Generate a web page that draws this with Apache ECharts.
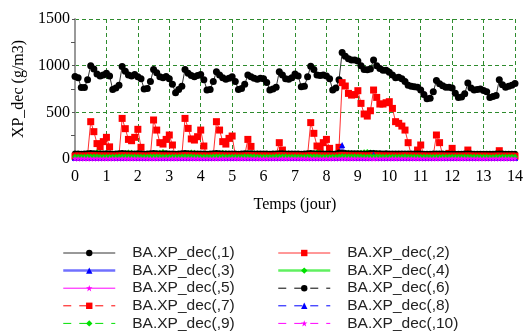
<!DOCTYPE html>
<html><head><meta charset="utf-8">
<script src="https://cdn.jsdelivr.net/npm/echarts@6/dist/echarts.min.js"></script>
<style>html,body{margin:0;padding:0;background:#fff}#c{width:526px;height:331px}</style>
</head><body><div id="c"></div>
<script>
var times = [0,0.1,0.2,0.3,0.4,0.5,0.6,0.7,0.8,0.9,1,1.1,1.2,1.3,1.4,1.5,1.6,1.7,1.8,1.9,2,2.1,2.2,2.3,2.4,2.5,2.6,2.7,2.8,2.9,3,3.1,3.2,3.3,3.4,3.5,3.6,3.7,3.8,3.9,4,4.1,4.2,4.3,4.4,4.5,4.6,4.7,4.8,4.9,5,5.1,5.2,5.3,5.4,5.5,5.6,5.7,5.8,5.9,6,6.1,6.2,6.3,6.4,6.5,6.6,6.7,6.8,6.9,7,7.1,7.2,7.3,7.4,7.5,7.6,7.7,7.8,7.9,8,8.1,8.2,8.3,8.4,8.5,8.6,8.7,8.8,8.9,9,9.1,9.2,9.3,9.4,9.5,9.6,9.7,9.8,9.9,10,10.1,10.2,10.3,10.4,10.5,10.6,10.7,10.8,10.9,11,11.1,11.2,11.3,11.4,11.5,11.6,11.7,11.8,11.9,12,12.1,12.2,12.3,12.4,12.5,12.6,12.7,12.8,12.9,13,13.1,13.2,13.3,13.4,13.5,13.6,13.7,13.8,13.9,14];

var s1 = [885,870,765,765,850,1000,965,910,890,900, 920,890,745,760,790,990,940,900,890,905, 880,860,750,755,830,960,925,880,870,885, 860,800,710,745,780,960,920,895,880,895, 905,850,740,745,830,935,900,870,855,865, 880,830,745,755,800,900,880,865,855,865, 860,820,740,750,770,935,900,860,855,870, 910,890,775,780,880,995,960,900,895,900, 890,860,740,760,850,1140,1100,1075,1060,1060, 1050,1000,960,955,965,1060,1000,970,950,950, 930,900,870,875,860,830,790,780,775,770, 740,690,645,650,720,840,805,785,770,770, 760,705,660,665,700,815,760,740,745,750, 735,720,660,670,680,850,795,770,780,790, 810];
var s2 = [30,30,30,30,40,400,293,165,130,186, 232,130,30,30,40,435,325,210,196,232, 318,125,30,30,40,418,310,175,160,210, 257,150,30,30,40,435,328,215,203,239, 310,139,30,30,40,400,310,186,160,221, 246,40,30,30,40,210,135,30,30,30, 30,30,30,30,40,175,96,30,30,30, 30,30,30,30,40,390,275,139,120,175, 210,114,30,40,125,818,782,703,685,690, 732,596,482,460,517,739,660,589,589,603, 614,542,400,382,353,310,175,40,40,96, 150,40,30,30,40,257,175,40,40,60, 114,40,30,30,40,96,40,30,30,30, 30,30,30,30,40,89,40,30,30,30, 30];
var s3 = [15,15,15,15,15,15,15,15,15,15, 15,15,15,15,15,15,15,15,15,15, 15,15,15,15,15,15,15,15,15,15, 15,15,15,15,15,15,15,15,15,15, 15,15,15,15,15,15,15,15,15,15, 15,15,15,15,15,15,15,15,15,15, 15,15,15,15,15,15,15,15,15,15, 15,15,15,15,15,15,15,15,15,15, 15,15,15,15,30,150,35,15,15,15, 15,15,15,15,15,15,15,15,15,15, 15,15,15,15,15,15,15,15,15,15, 15,15,15,15,15,15,15,15,15,15, 15,15,15,15,15,15,15,15,15,15, 15,15,15,15,15,15,15,15,15,15, 15];
var s4 = [50,52,50,49,55,62,60,72,65,55, 52,50,49,50,56,64,62,70,66,55, 52,50,49,50,55,62,60,68,75,58, 52,50,48,50,56,63,62,70,66,55, 52,50,48,50,55,60,58,66,62,54, 52,50,49,50,55,60,58,62,58,54, 52,50,49,50,55,60,58,62,58,54, 52,50,49,50,56,64,62,70,66,56, 54,50,49,52,60,70,68,66,62,60, 62,66,72,74,70,68,62,58,56,55, 54,53,52,52,53,54,53,52,52,52, 52,51,50,51,53,54,53,52,56,54, 52,51,50,51,52,53,52,51,51,51, 51,50,50,51,52,53,52,51,51,51, 51];
var s5 = [8,8,7,7,8,9,9,8,8,8, 8,8,7,7,8,9,9,8,8,8, 8,8,7,7,8,9,9,8,8,8, 8,8,7,7,8,9,9,8,8,8, 8,8,7,7,8,9,9,8,8,8, 8,8,7,7,8,9,9,8,8,8, 8,8,7,7,8,9,9,8,8,8, 8,8,7,7,8,9,9,8,8,8, 8,8,7,7,8,9,9,8,8,8, 8,8,7,7,8,9,9,8,8,8, 8,8,7,7,8,9,9,8,8,8, 8,8,7,7,8,9,9,8,8,8, 8,8,7,7,8,9,9,8,8,8, 8,8,7,7,8,9,9,8,8,8, 8];
var s6 = [60,58,57,59,62,63,61,60,59,60, 61,58,57,58,62,64,61,60,59,60, 61,58,57,59,62,63,61,60,60,61, 60,58,56,58,62,64,62,60,59,60, 60,58,57,58,61,63,61,60,59,60, 60,58,57,58,61,62,61,60,59,60, 59,58,57,58,60,62,61,60,59,59, 60,58,57,58,62,64,61,60,60,60, 60,58,57,60,70,66,64,62,61,62, 62,60,59,60,63,64,62,61,60,61, 60,59,58,58,60,60,59,58,58,58, 58,57,56,57,59,60,59,58,57,57, 57,56,56,57,58,59,58,57,57,57, 57,56,55,56,58,60,58,57,57,57, 57];
var s7 = [38,38,37,37,39,41,40,39,38,38, 38,38,37,37,39,41,40,39,38,38, 38,38,37,37,39,41,40,39,38,38, 38,38,37,37,39,41,40,39,38,38, 38,38,37,37,39,41,40,39,38,38, 38,38,37,37,39,41,40,39,38,38, 38,38,37,37,39,41,40,39,38,38, 38,38,37,37,39,41,40,39,38,38, 38,38,37,37,40,44,42,40,39,39, 39,39,38,38,39,41,40,39,38,38, 38,38,37,37,38,39,38,38,37,37, 37,37,36,36,37,38,37,37,36,36, 36,36,36,36,37,38,37,36,36,36, 36,36,35,35,36,37,36,36,36,36, 36];
var s8 = [12,12,12,12,12,12,12,12,12,12, 12,12,12,12,12,12,12,12,12,12, 12,12,12,12,12,12,12,12,12,12, 12,12,12,12,12,12,12,12,12,12, 12,12,12,12,12,12,12,12,12,12, 12,12,12,12,12,12,12,12,12,12, 12,12,12,12,12,12,12,12,12,12, 12,12,12,12,12,12,12,12,12,12, 12,12,12,12,14,18,14,12,12,12, 12,12,12,12,12,45,14,12,12,12, 12,12,12,12,12,12,12,12,12,12, 12,12,12,12,12,12,12,12,12,12, 12,12,12,12,12,12,12,12,12,12, 12,12,12,12,12,12,12,12,12,12, 12];
var s9 = [25,25,24,24,26,28,27,26,25,25, 25,25,24,24,26,28,27,26,25,25, 25,25,24,24,26,28,27,26,25,25, 25,25,24,24,26,28,27,26,25,25, 25,25,24,24,26,28,27,26,25,25, 25,25,24,24,26,28,27,26,25,25, 25,25,24,24,26,28,27,26,25,25, 25,25,24,24,26,28,27,26,25,25, 25,25,24,24,27,30,28,27,26,26, 26,26,25,25,26,28,27,26,25,25, 25,25,24,24,25,26,25,25,24,24, 24,24,23,23,24,25,24,24,23,23, 23,23,23,23,24,25,24,23,23,23, 23,23,22,22,23,24,23,23,23,23, 23];
var s10 = [3,3,3,3,3,4,4,3,3,3, 3,3,3,3,3,4,4,3,3,3, 3,3,3,3,3,4,4,3,3,3, 3,3,3,3,3,4,4,3,3,3, 3,3,3,3,3,4,4,3,3,3, 3,3,3,3,3,4,4,3,3,3, 3,3,3,3,3,4,4,3,3,3, 3,3,3,3,3,4,4,3,3,3, 3,3,3,3,3,4,4,3,3,3, 3,3,3,3,3,4,4,3,3,3, 3,3,3,3,3,4,4,3,3,3, 3,3,3,3,3,4,4,3,3,3, 3,3,3,3,3,4,4,3,3,3, 3,3,3,3,3,4,4,3,3,3, 3];

var seriesNames = ['BA.XP_dec(,1)','BA.XP_dec(,2)','BA.XP_dec(,3)','BA.XP_dec(,4)','BA.XP_dec(,5)','BA.XP_dec(,6)','BA.XP_dec(,7)','BA.XP_dec(,8)','BA.XP_dec(,9)','BA.XP_dec(,10)'];
var seriesValues = [s1,s2,s3,s4,s5,s6,s7,s8,s9,s10];
var xTicks = [0,1,2,3,4,5,6,7,8,9,10,11,12,13,14];
var yTicks = [0,500,1000,1500];

var star = 'path://M0,-5 L1.2,-1.6 L5,-1.6 L2,0.6 L3,4.5 L0,2.2 L-3,4.5 L-2,0.6 L-5,-1.6 L-1.2,-1.6 Z';
var styles = [
  {color:'#000000', line:'#333333', w:1, lw:1, type:'solid', sym:'circle', size:7},
  {color:'#ff0000', line:'#ff3030', w:1, lw:1, type:'solid', sym:'rect', size:7},
  {color:'#0000ff', line:'#7070ff', w:2, lw:2.5, type:'solid', sym:'triangle', size:6},
  {color:'#00e000', line:'#60f060', w:2, lw:2.5, type:'solid', sym:'diamond', size:6},
  {color:'#ff00ff', line:'#ff00ff', w:1, lw:1, type:'solid', sym:star, size:6},
  {color:'#000000', line:'#000000', w:1, lw:1, type:[8,8], sym:'circle', size:6},
  {color:'#ff0000', line:'#ff0000', w:1, lw:1, type:[8,8], sym:'rect', size:6},
  {color:'#0000ff', line:'#0000ff', w:1, lw:1, type:[8,8], sym:'triangle', size:6},
  {color:'#00e000', line:'#00e000', w:1, lw:1, type:[8,8], sym:'diamond', size:6},
  {color:'#ff00ff', line:'#ff00ff', w:1, lw:1, type:[8,8], sym:star, size:6}
];

var series = seriesValues.map(function(vals, i){
  var st = styles[i];
  return {
    name: seriesNames[i], type:'line',
    data: vals.map(function(v, k){ return [times[k], v]; }),
    symbol: st.sym, symbolSize: st.size, showSymbol:true,
    itemStyle:{color:st.color, borderWidth:0},
    lineStyle:{color:st.line, width:st.w, type:st.type},
    animation:false, silent:true, z: 2 + i
  };
});

function legData(idx){
  return idx.map(function(i){
    var st = styles[i];
    return {name: seriesNames[i], lineStyle:{width:st.lw, color:st.line, type:st.type}};
  });
}
var legText = {fontFamily:'Liberation Sans, Arial, sans-serif', fontSize:15.5, lineHeight:15, color:'#222', padding:[0,0,0,12]};
var chart = echarts.init(document.getElementById('c'), null, {renderer:'canvas'});
chart.setOption({
  animation:false,
  backgroundColor:'#ffffff',
  grid:{left:75, top:19, right:9, bottom:172, containLabel:false},
  xAxis:{
    type:'value', min:xTicks[0], max:xTicks[xTicks.length-1], interval:1,
    name:'Temps (jour)', nameLocation:'middle', nameGap:38,
    nameTextStyle:{fontFamily:'Liberation Serif, Times New Roman, serif', fontSize:16, color:'#000'},
    axisLabel:{fontFamily:'Liberation Serif, Times New Roman, serif', fontSize:16, color:'#000', margin:10},
    axisLine:{show:false}, axisTick:{show:false},
    splitLine:{show:true, lineStyle:{color:'#2e8b2e', type:[4,3], width:1}}
  },
  yAxis:{
    type:'value', min:yTicks[0], max:yTicks[yTicks.length-1], interval:500,
    name:'XP_dec (g/m3)', nameLocation:'middle', nameGap:47, nameRotate:90,
    nameTextStyle:{fontFamily:'Liberation Serif, Times New Roman, serif', fontSize:16, color:'#000'},
    axisLabel:{fontFamily:'Liberation Serif, Times New Roman, serif', fontSize:16, color:'#000', margin:5,
      formatter:function(v){ return String(v); }},
    axisLine:{show:true, lineStyle:{color:'#999999', width:2}},
    axisTick:{show:true, length:3, inside:false, lineStyle:{color:'#555'}},
    minorTick:{show:true, splitNumber:2, length:4, lineStyle:{color:'#555'}},
    splitLine:{show:true, lineStyle:{color:'#2e8b2e', type:[4,3], width:1}}
  },
  legend:[
    {data:legData([0,2,4,6,8]),
     orient:'vertical', left:62, top:245, height:120, itemWidth:52, itemHeight:8, itemGap:1.6, padding:0,
     textStyle:legText, selectedMode:false},
    {data:legData([1,3,5,7,9]),
     orient:'vertical', left:277, top:245, height:120, itemWidth:52, itemHeight:8, itemGap:1.6, padding:0,
     textStyle:legText, selectedMode:false}
  ],
  series: series
});
</script></body></html>
